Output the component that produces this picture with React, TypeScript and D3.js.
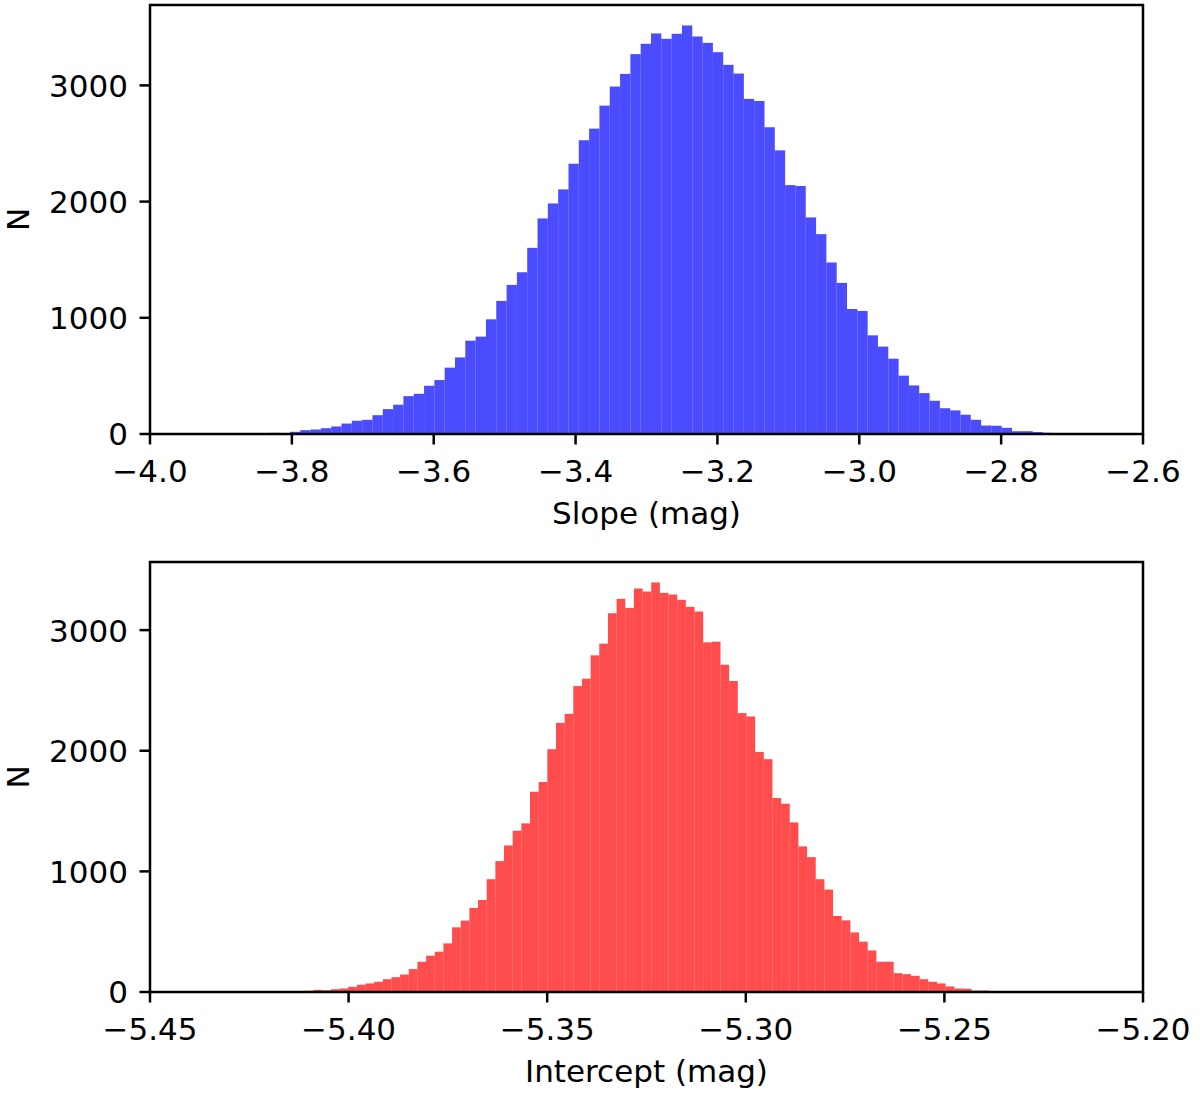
import { useEffect, useRef } from "react";
import * as d3 from "d3";

// Slope histogram: 80 bins starting at SLOPE_START
const SLOPE_START = -3.8609;
const SLOPE_BIN = 0.014545;
const SLOPE_COUNTS = [
  2, 5, 10, 6, 19, 33, 39, 50, 65, 90, 114, 122, 162, 214, 252, 326, 346, 415, 464, 571,
  659, 803, 838, 987, 1145, 1283, 1392, 1602, 1855, 1984, 2105, 2326, 2528, 2628, 2826, 2990,
  3099, 3269, 3358, 3447, 3401, 3444, 3516, 3421, 3366, 3286, 3177, 3102, 2884, 2866, 2640,
  2441, 2142, 2134, 1864, 1720, 1476, 1300, 1076, 1059, 849, 752, 648, 502, 418, 352, 286,
  222, 203, 166, 122, 73, 71, 53, 24, 24, 16, 10, 4, 2,
];
const SLOPE_TICKS = [-4.0, -3.8, -3.6, -3.4, -3.2, -3.0, -2.8, -2.6];

// Intercept histogram
const INTERCEPT_START = -5.41319;
const INTERCEPT_BIN = 0.00218;
const INTERCEPT_COUNTS = [
  6, 10, 18, 15, 23, 29, 43, 60, 71, 85, 106, 123, 145, 190, 251, 301, 334, 403, 536, 592,
  697, 763, 935, 1085, 1215, 1337, 1398, 1660, 1741, 2013, 2231, 2306, 2536, 2597, 2791, 2888,
  3140, 3259, 3184, 3345, 3320, 3395, 3309, 3295, 3251, 3193, 3154, 2899, 2904, 2713, 2578,
  2312, 2284, 1990, 1930, 1608, 1561, 1406, 1207, 1118, 935, 849, 630, 594, 494, 417, 345,
  251, 251, 156, 148, 134, 106, 85, 71, 46, 29, 27, 12, 12, 8,
];
const INTERCEPT_TICKS = [-5.45, -5.4, -5.35, -5.3, -5.25, -5.2];

const COUNT_TICKS = [0, 1000, 2000, 3000];

const WIDTH = 1200;
const HEIGHT = 1096;
const FONT = "'DejaVu Sans', sans-serif";
const FONT_SIZE = 31;
const LINE_W = 2.5;
const TICK_LEN = 10.5;

type Panel = {
  top: number;
  bottom: number;
  domain: [number, number];
  ticks: number[];
  digits: number;
  counts: number[];
  start: number;
  bin: number;
  color: string;
  label: string;
};

const minusFmt = (digits: number) => (v: number) => {
  const s = Math.abs(v).toFixed(digits);
  return v < 0 ? "\u2212" + s : s;
};

function drawPanel(svg: d3.Selection<SVGSVGElement, unknown, null, undefined>, p: Panel) {
  const left = 150;
  const right = 1143;
  const g = svg.append("g");

  const x = d3.scaleLinear().domain(p.domain).range([left, right]);
  const yMax = (d3.max(p.counts) ?? 1) * 1.05;
  const y = d3.scaleLinear().domain([0, yMax]).range([p.bottom, p.top]);

  g.append("rect")
    .attr("x", left)
    .attr("y", p.top)
    .attr("width", right - left)
    .attr("height", p.bottom - p.top)
    .attr("fill", "white");

  g.append("g")
    .selectAll("rect")
    .data(p.counts)
    .join("rect")
    .attr("x", (_, i) => x(p.start + i * p.bin))
    .attr("width", (_, i) => x(p.start + (i + 1) * p.bin) - x(p.start + i * p.bin))
    .attr("y", (d) => y(d))
    .attr("height", (d) => p.bottom - y(d))
    .attr("fill", p.color)
    .attr("fill-opacity", 0.7);

  // frame
  g.append("rect")
    .attr("x", left)
    .attr("y", p.top)
    .attr("width", right - left)
    .attr("height", p.bottom - p.top)
    .attr("fill", "none")
    .attr("stroke", "black")
    .attr("stroke-width", LINE_W);

  const fmt = minusFmt(p.digits);

  // x ticks
  const xt = g.append("g").selectAll("g").data(p.ticks).join("g");
  xt.append("line")
    .attr("x1", (d) => x(d))
    .attr("x2", (d) => x(d))
    .attr("y1", p.bottom)
    .attr("y2", p.bottom + TICK_LEN)
    .attr("stroke", "black")
    .attr("stroke-width", LINE_W);
  xt.append("text")
    .attr("x", (d) => x(d))
    .attr("y", p.bottom + 48)
    .attr("text-anchor", "middle")
    .attr("font-family", FONT)
    .attr("font-size", FONT_SIZE)
    .text((d) => fmt(d));

  // y ticks
  const yt = g.append("g").selectAll("g").data(COUNT_TICKS).join("g");
  yt.append("line")
    .attr("x1", left - TICK_LEN)
    .attr("x2", left)
    .attr("y1", (d) => y(d))
    .attr("y2", (d) => y(d))
    .attr("stroke", "black")
    .attr("stroke-width", LINE_W);
  yt.append("text")
    .attr("x", 128)
    .attr("y", (d) => y(d))
    .attr("dy", "0.37em")
    .attr("text-anchor", "end")
    .attr("font-family", FONT)
    .attr("font-size", FONT_SIZE)
    .text((d) => String(d));

  g.append("text")
    .attr("x", (left + right) / 2)
    .attr("y", p.bottom + 90)
    .attr("text-anchor", "middle")
    .attr("font-family", FONT)
    .attr("font-size", FONT_SIZE)
    .text(p.label);

  g.append("text")
    .attr("transform", `translate(28.5, ${(p.top + p.bottom) / 2}) rotate(-90)`)
    .attr("text-anchor", "middle")
    .attr("font-family", FONT)
    .attr("font-size", FONT_SIZE)
    .text("N");
}

export default function App() {
  const svgRef = useRef<SVGSVGElement>(null);

  useEffect(() => {
    document.body.style.margin = "0";
    const el = svgRef.current;
    if (!el) return;
    const svg = d3.select(el);
    svg.selectAll("*").remove();

    drawPanel(svg, {
      top: 5,
      bottom: 434,
      domain: [-4.0, -2.6],
      ticks: SLOPE_TICKS,
      digits: 1,
      counts: SLOPE_COUNTS,
      start: SLOPE_START,
      bin: SLOPE_BIN,
      color: "blue",
      label: "Slope (mag)",
    });

    drawPanel(svg, {
      top: 562,
      bottom: 992,
      domain: [-5.45, -5.2],
      ticks: INTERCEPT_TICKS,
      digits: 2,
      counts: INTERCEPT_COUNTS,
      start: INTERCEPT_START,
      bin: INTERCEPT_BIN,
      color: "red",
      label: "Intercept (mag)",
    });
  }, []);

  return (
    <svg
      ref={svgRef}
      width={WIDTH}
      height={HEIGHT}
      viewBox={`0 0 ${WIDTH} ${HEIGHT}`}
      style={{ display: "block", background: "white" }}
    />
  );
}
